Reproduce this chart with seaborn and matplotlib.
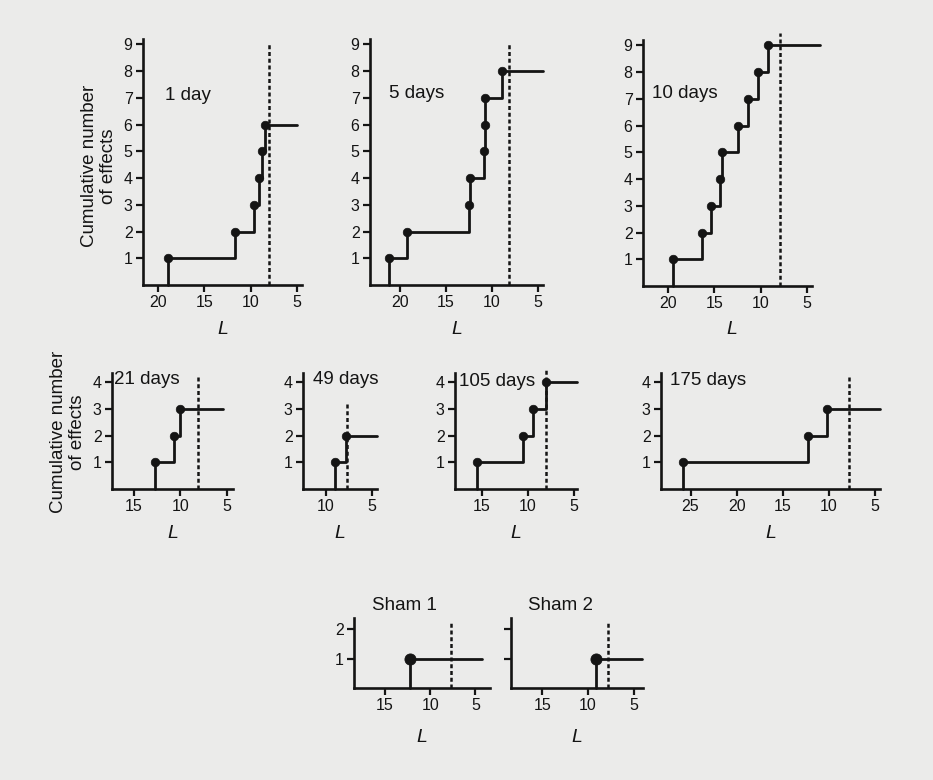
import pandas as pd
import seaborn as sns
import matplotlib.pyplot as plt

OUTPUT_FILE = "out.png"
W, H = 933, 780
PAPER = "#ebebea"
INK = "#141414"

# panel names, in reading order
PANELS = ["1 day", "5 days", "10 days",
          "21 days", "49 days", "105 days", "175 days",
          "Sham 1", "Sham 2"]

# L value at which each successive effect appeared
DAY1_L = [18.9, 11.7, 9.6, 9.1, 8.8, 8.5]
DAY5_L = [21.15, 19.2, 12.5, 12.4, 10.9, 10.8, 10.8, 8.95]
DAY10_L = [19.45, 16.35, 15.3, 14.4, 14.1, 12.45, 11.35, 10.25, 9.15]
DAY21_L = [12.7, 10.65, 10.0]
DAY49_L = [8.95, 7.85]
DAY105_L = [15.55, 10.55, 9.45, 8.0]
DAY175_L = [25.8, 12.25, 10.2]
SHAM1_L = [12.25]
SHAM2_L = [9.1]
HITS = [DAY1_L, DAY5_L, DAY10_L, DAY21_L, DAY49_L, DAY105_L, DAY175_L,
        SHAM1_L, SHAM2_L]

# L where each step line stops
END_L = [5.0, 4.46, 3.6, 5.4, 4.46, 4.64, 4.46, 4.3, 4.1]
# critical L (dashed line)
CRIT_L = [8.0, 8.1, 7.95, 8.05, 7.7, 8.05, 7.85, 7.65, 7.75]

# layout: pixel box (left, right, y of zero, y of top), x limits, y top,
# ticks, top of dashed line, label position
LAYOUT = [
    dict(box=(143, 302, 285, 39), xlim=(21.6, 4.46), ytop=9.2, yt=range(1, 10),
         xt=[20, 15, 10, 5], dash=9.1, lab=(165, 95)),
    dict(box=(370, 543, 285, 39), xlim=(23.25, 4.46), ytop=9.2, yt=range(1, 10),
         xt=[20, 15, 10, 5], dash=9.0, lab=(389, 93)),
    dict(box=(643, 820, 286, 40), xlim=(22.66, 3.6), ytop=9.2, yt=range(1, 10),
         xt=[20, 15, 10, 5], dash=9.45, lab=(652, 94), xend=4.46),
    dict(box=(112, 233, 489, 373), xlim=(17.3, 4.36), ytop=4.35, yt=range(1, 5),
         xt=[15, 10, 5], dash=4.25, lab=(114, 379)),
    dict(box=(303, 377, 489, 373), xlim=(12.45, 4.46), ytop=4.35, yt=range(1, 5),
         xt=[10, 5], dash=3.2, lab=(313, 379)),
    dict(box=(455, 577, 489, 373), xlim=(17.9, 4.64), ytop=4.35, yt=range(1, 5),
         xt=[15, 10, 5], dash=4.45, lab=(459, 381)),
    dict(box=(661, 880, 489, 373), xlim=(28.2, 4.46), ytop=4.35, yt=range(1, 5),
         xt=[25, 20, 15, 10, 5], dash=4.2, lab=(670, 380)),
    dict(box=(354, 490, 688, 618), xlim=(18.4, 3.4), ytop=2.38, yt=[1, 2],
         xt=[15, 10, 5], dash=2.25, lab=(372, 605), big=True),
    dict(box=(511, 643, 688, 618), xlim=(18.45, 3.96), ytop=2.38, yt=[1, 2],
         xt=[15, 10, 5], dash=2.25, lab=(528, 605), big=True, noylab=True),
]


def fx(px):
    return px / W


def fy(py):
    return 1 - py / H


def draw_panel(fig, name, hits, end, crit, spec):
    left, right, y0, ytop_px = spec["box"]
    ax = fig.add_axes([fx(left), fy(y0), (right - left) / W, (y0 - ytop_px) / H])
    ax.set_facecolor("none")

    n = len(hits)
    steps = pd.DataFrame({"L": [hits[0]] + hits + [end],
                          "n": [0] + list(range(1, n + 1)) + [n]})
    sns.lineplot(data=steps, x="L", y="n", drawstyle="steps-post",
                 estimator=None, sort=False, color=INK, lw=2.0,
                 clip_on=False, ax=ax)
    dots = pd.DataFrame({"L": hits, "n": range(1, n + 1)})
    sns.scatterplot(data=dots, x="L", y="n", color=INK, edgecolor=INK,
                    s=64 if spec.get("big") else 38, zorder=4,
                    clip_on=False, ax=ax)
    ax.vlines(crit, 0, spec["dash"], colors=INK, lw=1.8,
              linestyles=(0, (1.6, 1.1)), clip_on=False)

    ax.set_xlim(*spec["xlim"])
    ax.set_ylim(0, spec["ytop"])
    ax.set_xticks(spec["xt"])
    ax.set_yticks(list(spec["yt"]))
    ax.set_xlabel("")
    ax.set_ylabel("")
    if spec.get("noylab"):
        ax.set_yticklabels([])

    ax.spines["top"].set_visible(False)
    ax.spines["right"].set_visible(False)
    for s in ("left", "bottom"):
        ax.spines[s].set_linewidth(1.9)
        ax.spines[s].set_color(INK)
    if "xend" in spec:
        ax.spines["bottom"].set_bounds(spec["xlim"][0], spec["xend"])
    ax.tick_params(axis="both", length=5, width=1.6, color=INK,
                   labelsize=11.5, labelcolor=INK, pad=2.5)

    lx, ly = spec["lab"]
    fig.text(fx(lx), fy(ly), name, ha="left", va="center",
             fontsize=13.5, color=INK)
    # italic L under each panel
    ly_L = {285: 329, 286: 329, 489: 533, 688: 738}[y0]
    fig.text(fx((left + right) / 2), fy(ly_L), "L", ha="center", va="center",
             fontsize=14, style="italic", color=INK)


def main():
    sns.set_style("ticks")
    plt.rcParams["font.family"] = ["Liberation Sans", "DejaVu Sans"]
    fig = plt.figure(figsize=(W / 100, H / 100), dpi=100)
    fig.patch.set_facecolor(PAPER)

    for name, hits, end, crit, spec in zip(PANELS, HITS, END_L, CRIT_L, LAYOUT):
        draw_panel(fig, name, hits, end, crit, spec)

    for x, y in [(99, 166), (68, 432)]:
        fig.text(fx(x), fy(y), "Cumulative number\nof effects", rotation=90,
                 ha="center", va="center", fontsize=13.5, color=INK,
                 linespacing=1.15, multialignment="center")

    fig.savefig(OUTPUT_FILE, dpi=100, facecolor=PAPER)


if __name__ == "__main__":
    main()
